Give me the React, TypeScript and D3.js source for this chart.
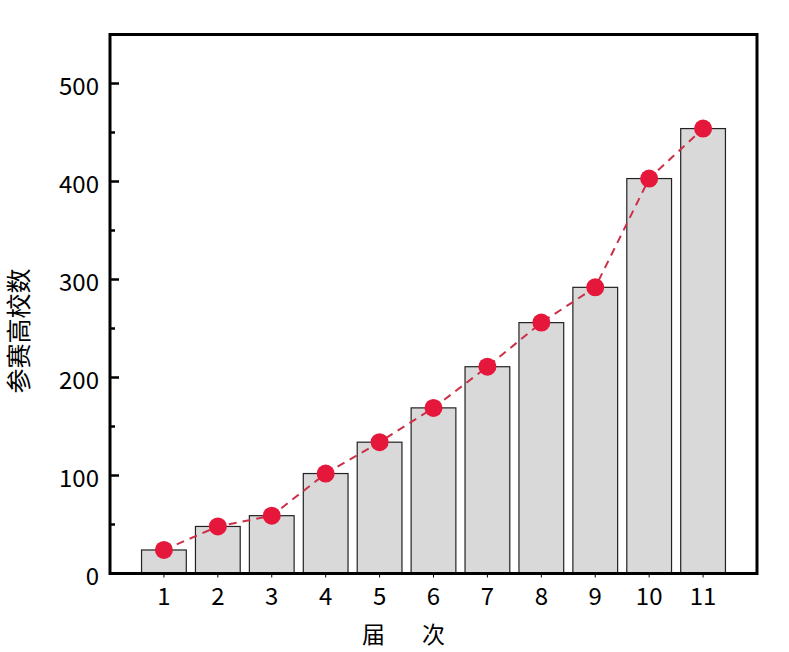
import React from "react";
import * as d3 from "d3";

const sessions = ["1", "2", "3", "4", "5", "6", "7", "8", "9", "10", "11"];
const schools = [24, 48, 59, 102, 134, 169, 211, 256, 292, 403, 454];
const yMajorTicks = [0, 100, 200, 300, 400, 500];
const yMinorTicks = [50, 150, 250, 350, 450];
const xTitle = "届　次";
const yTitle = "参赛高校数";

const W = 789;
const H = 652;
const L = 110;
const R = 757;
const T = 34.5;
const B = 573.5;
const FONT = "'Noto Sans CJK SC', 'Noto Sans', sans-serif";

export default function App() {
  const x = d3.scaleLinear().domain([0, sessions.length + 1]).range([L, R]);
  const y = d3.scaleLinear().domain([0, 550]).range([B, T]);
  const step = x(1) - x(0);
  const bw = step * 0.83;
  const pts: [number, number][] = schools.map((v, i) => [x(i + 1), y(v)]);
  const line = d3.line<[number, number]>().x((d) => d[0]).y((d) => d[1]);

  return (
    <svg
      width={W}
      height={H}
      style={{ position: "absolute", left: 0, top: 0, display: "block", background: "#fff" }}
    >
      {schools.map((v, i) => (
        <rect
          key={i}
          x={x(i + 1) - bw / 2}
          y={y(v)}
          width={bw}
          height={B - y(v)}
          fill="#d9d9d9"
          stroke="#222"
          strokeWidth={1.2}
        />
      ))}
      <path
        d={line(pts) || ""}
        fill="none"
        stroke="#cc3048"
        strokeWidth={2}
        strokeDasharray="8 6"
      />
      {pts.map((p, i) => (
        <circle key={i} cx={p[0]} cy={p[1]} r={9} fill="#e5173a" />
      ))}
      {/* frame */}
      <rect x={L} y={T} width={R - L} height={B - T} fill="none" stroke="#000" strokeWidth={3} />
      {/* y ticks */}
      {yMajorTicks.map((t) => (
        <g key={"M" + t}>
          <line x1={L} x2={L + 9} y1={y(t)} y2={y(t)} stroke="#000" strokeWidth={2.5} />
          <text
            x={99}
            y={y(t) + 11}
            textAnchor="end"
            fontFamily={FONT}
            fontSize={24}
            fill="#000"
          >
            {t}
          </text>
        </g>
      ))}
      {yMinorTicks.map((t) => (
        <line key={"m" + t} x1={L} x2={L + 5} y1={y(t)} y2={y(t)} stroke="#000" strokeWidth={2.5} />
      ))}
      {/* x ticks */}
      {sessions.map((s, i) => (
        <g key={"x" + s}>
          <line x1={x(i + 1)} x2={x(i + 1)} y1={B} y2={B + 4} stroke="#000" strokeWidth={1} />
          <text
            x={x(i + 1)}
            y={605}
            textAnchor="middle"
            fontFamily={FONT}
            fontSize={24}
            fill="#000"
          >
            {s}
          </text>
        </g>
      ))}
      <text
        x={407}
        y={643}
        textAnchor="middle"
        fontFamily={FONT}
        fontSize={23}
        letterSpacing={7}
        fill="#000"
      >
        {xTitle}
      </text>
      <text
        transform={`translate(28, 331) rotate(-90)`}
        textAnchor="middle"
        fontFamily={FONT}
        fontSize={25}
        fill="#000"
      >
        {yTitle}
      </text>
    </svg>
  );
}
